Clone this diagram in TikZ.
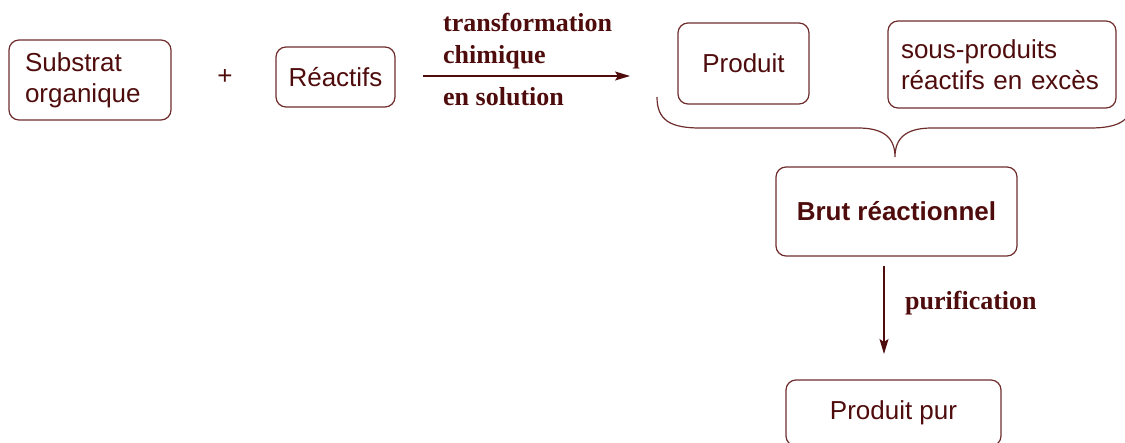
\documentclass[tikz,border=0pt]{standalone}
\usepackage{fontspec}
\setmainfont{Liberation Serif}
\setsansfont{Liberation Sans}
\usetikzlibrary{arrows.meta}
\definecolor{ink}{HTML}{4F0C0C}
\definecolor{edge}{HTML}{6E2C2C}
\begin{document}
\begin{tikzpicture}[x=1pt,y=-1pt,
  box/.style={draw=edge, line width=1.2pt, rounded corners=10pt, text=ink,
    font=\sffamily\fontsize{26}{31}\selectfont, inner sep=0pt, align=center},
  lab/.style={text=ink, font=\bfseries\fontsize{26}{32}\selectfont, inner sep=0pt, align=left},
  arr/.style={draw=ink, line width=1.2pt, -{Stealth[length=15pt,width=9pt,inset=3pt]}}]
\useasboundingbox (0,0) rectangle (1125,443);
% boxes
\node[box, minimum width=162pt, minimum height=80pt, text width=130pt, inner xsep=16pt, align=left] (sub) at (90,80) {Substrat\\organique};
\node[text=ink, font=\sffamily\fontsize{26}{31}\selectfont, inner sep=0pt] (plus) at (225,77) {+};
\node[box, minimum width=119pt, minimum height=60pt] (rea) at (335.5,77) {Réactifs};
\node[box, minimum width=131pt, minimum height=81pt] (prod) at (743.5,63.5) {Produit};
\node[box, minimum width=228pt, minimum height=87pt, text width=202pt, inner xsep=13pt, align=left] (sous) at (1002,64.5) {sous-produits\\réactifs en excès};
\node[box, minimum width=241pt, minimum height=89pt, font=\sffamily\bfseries\fontsize{26}{31}\selectfont] (brut) at (896.5,211.5) {Brut réactionnel};
\node[box, minimum width=215pt, minimum height=66pt] (pur) at (893.5,413) {Produit pur};
% reaction arrow
\coordinate (a1s) at (423,76);
\coordinate (a1e) at (630,76);
\draw[arr] (a1s) -- (a1e);
\node[lab, anchor=west] (lt) at (443,41) {transformation\\chimique};
\node[lab, anchor=west] (lb) at (443,97) {en solution};
% brace
\coordinate (bl) at (657,97);
\coordinate (tip) at (895,157);
\coordinate (br) at (1133,97);
\draw[edge, line width=1.2pt] (bl) .. controls (657,120) and (670,128) .. (700,128)
  -- (858,128) .. controls (884,128) and (895,138) .. (tip)
  .. controls (895,138) and (906,128) .. (932,128)
  -- (1090,128) .. controls (1120,128) and (1133,120) .. (br);
% purification arrow
\coordinate (a2s) at (884,266);
\coordinate (a2e) at (884,354);
\draw[arr] (a2s) -- (a2e);
\node[lab, anchor=west] (lp) at (905,303) {purification};
\end{tikzpicture}
\end{document}
